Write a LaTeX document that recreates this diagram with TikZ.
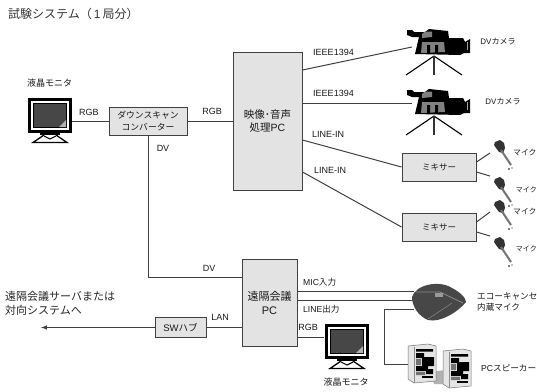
\documentclass[tikz,border=0pt]{standalone}
\usepackage{fontspec}
\setmainfont{Noto Sans CJK JP}
\setsansfont{Noto Sans CJK JP}
\newfontfamily\lat{Liberation Sans}
\tikzset{
  x=1pt,y=-1pt,
  lbl/.style={inner sep=0pt,font=\lat\fontsize{9}{10}\selectfont,text=black!90},
  jp/.style={inner sep=0pt,font=\fontsize{8.6}{10}\selectfont,text=black!90},
  jpsmall/.style={inner sep=0pt,font=\fontsize{7}{10}\selectfont,text=black!90},
  big/.style={anchor=west,inner sep=0pt,font=\fontsize{11}{12}\selectfont,text=black!85},
  boxn/.style={draw=black!75,line width=1pt,fill=black!11,inner sep=0pt,align=center,text=black!90},
  wire/.style={draw=black!75,line width=1pt},
}
\newcommand{\monitorat}[2]{%
\begin{scope}[shift={(#1,#2)}]
 \fill[black] (0,0) rectangle (44,35);
 \fill[white] (3,3) rectangle (41,32);
 \fill[black] (5,5) rectangle (39,30);
 \fill[black!72] (6,6) rectangle (38,29);
 \fill[black!30] (38,22) -- (38,29) -- (31,29) -- cycle;
 \fill[black] (12,35) rectangle (32,37);
 \draw[black,line width=1.3pt] (16,37) -- (5,44.5) -- (39,44.5) -- (28,37);
 \draw[black,line width=1.1pt] (16,38) -- (22,41) -- (28,38);
\end{scope}}
\newcommand{\cameraat}[2]{%
\begin{scope}[shift={(#1,#2)}]
 \fill[black] (0,1) -- (5,1) -- (7,3) -- (18,3) -- (22,0) -- (41,2) -- (42,9) -- (56,9) -- (58,13) -- (63,10) -- (63,24) -- (57,24) -- (53,26) -- (8,25) -- (12,8) -- (5,8) -- (0,6) -- cycle;
 \fill[black!50] (15,5) -- (18,2.5) -- (25,2.5) -- (25,8) -- (15,9) -- cycle;
 \fill[black!50] (15,13) -- (37,13) -- (38,23) -- (14,24) -- cycle;
 \fill[black] (20,16) rectangle (23,24) (28,16) rectangle (31,24);
 \fill[black!35] (59.5,13) rectangle (61,21);
 \draw[black,line width=1.1pt] (27,27) -- (-1,46) (27,27) -- (55,46);
 \draw[black!80,line width=1.1pt] (27,27) -- (27,46);
\end{scope}}
\newcommand{\micat}[2]{%
\begin{scope}[shift={(#1,#2)}]
 \fill[black!80] (-4,-4) -- (1,-6) -- (5,-3) -- (6,2) -- (4,7) -- (0,6) -- (-3,2) -- (-5,-1) -- cycle;
 \draw[black!55,line width=2pt] (2,4) -- (12,19);
 \fill[black] (10,23) circle (0.8) (13,22) circle (0.6);
\end{scope}}
\newcommand{\speakerat}[2]{%
\begin{scope}[shift={(#1,#2)}]
 \fill[black!10] (0,2) -- (20,0) -- (28,2) -- (28,37) -- (6,39) -- (0,35) -- cycle;
 \draw[black!55,line width=0.5pt] (0,2) -- (20,0) -- (28,2) -- (28,37) -- (6,39) -- (0,35) -- cycle;
 \draw[black!45,line width=0.5pt] (6,3) -- (6,39);
 \fill[black] (8,5) rectangle (25,7.5) (8,9) rectangle (16,14) (14,13) rectangle (26,22) (8,22) rectangle (20,27) (18,25) rectangle (25,30);
 \fill[black!55] (8,15) rectangle (13,21) (8,28) rectangle (17,31);
 \fill[black] (14,32) rectangle (25,34);
\end{scope}}
\begin{document}
\begin{tikzpicture}
\useasboundingbox (0,0) rectangle (537,391);
\fill[white] (0,0) rectangle (537,391);
% boxes
\node[boxn,minimum width=78pt,minimum height=28pt,font=\fontsize{8.8}{11.5}\selectfont] (conv) at (148,121) {ダウンスキャン\\コンバーター};
\node[boxn,minimum width=69pt,minimum height=138pt,font=\fontsize{10.5}{13}\selectfont] (av) at (267.5,121) {映像･音声\\処理{\lat PC}};
\node[boxn,minimum width=74pt,minimum height=28pt,font=\fontsize{8.5}{10}\selectfont] (mix1) at (439,167) {ミキサー};
\node[boxn,minimum width=74pt,minimum height=28pt,font=\fontsize{8.5}{10}\selectfont] (mix2) at (439,227) {ミキサー};
\node[boxn,minimum width=55pt,minimum height=87pt,font=\fontsize{11}{14}\selectfont] (conf) at (269.5,302.5) {遠隔会議\\{\lat PC}};
\node[boxn,minimum width=51pt,minimum height=20pt,font=\fontsize{9.5}{10}\selectfont] (hub) at (180.5,327.5) {{\lat SW}ハブ};
% free ends
\coordinate (mon1) at (72,121);
\coordinate (mon2) at (324,337);
\coordinate (cam1) at (412,47);
\coordinate (cam2) at (412,103);
\coordinate (out) at (41,327.5);
\coordinate (podA) at (414,291);
\coordinate (podB) at (414,300);
\coordinate (podC) at (414,309);
\coordinate (spk) at (408,364);
\coordinate (m1) at (490,153);
\coordinate (m2) at (490,176);
\coordinate (m3) at (490,212);
\coordinate (m4) at (490,236);
% connectors
\draw[wire] (mon1) -- (conv.west);
\draw[wire] (conv.east) -- (av.west |- conv.east);
\draw[wire] (conv.south) |- (conf.west |- 0,277);
\draw[wire] (av.east |- 0,70) -- (cam1);
\draw[wire] (av.east |- cam2) -- (cam2);
\draw[wire] (av.east |- 0,140) -- (mix1.west);
\draw[wire] (av.east |- 0,172) -- (mix2.west);
\draw[wire] (mix1.east |- 0,162) -- (m1);
\draw[wire] (mix1.east |- 0,172) -- (m2);
\draw[wire] (mix2.east |- 0,222) -- (m3);
\draw[wire] (mix2.east |- 0,232) -- (m4);
\draw[wire] (conf.east |- podA) -- (podA);
\draw[wire] (conf.east |- podB) -- (podB);
\draw[wire] (conf.east |- mon2) -- (mon2);
\draw[wire] (podC) -- (384,309) -- (384,364) -- (spk);
\draw[wire] (conf.west |- hub) -- (hub.east);
\draw[wire,-latex] (hub.west) -- (out);
% pictures
\monitorat{28}{98}
\monitorat{325}{324}
\cameraat{407}{29}
\cameraat{407}{89}
\micat{499}{146}
\micat{499}{183}
\micat{499}{206}
\micat{499}{243}
\fill[black!72] (412,297) .. controls (416,284) and (440,280) .. (452,288) .. controls (460,292) and (466,298) .. (466,302) .. controls (458,312) and (440,323) .. (428,320) .. controls (418,316) and (412,306) .. (412,297) -- cycle;
\draw[black!45,line width=0.8pt] (416,292) -- (440,292) -- (463,303);
\draw[black!50,line width=0.6pt] (428,319) -- (452,303);
\fill[black!40] (435,293) rectangle (443,297);
\fill[black!30] (430,372) -- (445,370) -- (445,384) -- (434,384) -- cycle;
\speakerat{408}{344}
\speakerat{443}{349}
% labels
\node[anchor=west,inner sep=0pt,font=\fontsize{12}{13}\selectfont,text=black!80] (title) at (8,14) {試験システム（{\lat\,1\,}局分）};
\node[jp,font=\fontsize{9}{10}\selectfont] (l1) at (49.5,83) {液晶モニタ};
\node[jp,font=\fontsize{9}{10}\selectfont] (l2) at (346,382) {液晶モニタ};
\node[lbl] (r1) at (89,112) {RGB};
\node[lbl] (r2) at (212,111) {RGB};
\node[lbl] (r3) at (308,327) {RGB};
\node[lbl] (d1) at (163,148) {DV};
\node[lbl] (d2) at (209,268) {DV};
\node[lbl] (i1) at (333.5,52) {IEEE1394};
\node[lbl] (i2) at (333.5,93) {IEEE1394};
\node[lbl] (n1) at (328,134) {LINE-IN};
\node[lbl] (n2) at (330,170) {LINE-IN};
\node[lbl] (lan) at (220,317) {LAN};
\node[jp,font=\fontsize{8}{10}\selectfont] (cl1) at (498,42) {{\lat DV}カメラ};
\node[jp,font=\fontsize{8}{10}\selectfont] (cl2) at (503,102) {{\lat DV}カメラ};
\node[jpsmall,anchor=west,font=\fontsize{7.8}{10}\selectfont] (ma) at (513,153) {マイク};
\node[jpsmall,anchor=east] (mb) at (537,190) {マイク};
\node[jpsmall,anchor=west,font=\fontsize{7.8}{10}\selectfont] (mc) at (513,212) {マイク};
\node[jpsmall,anchor=east] (md) at (537,249) {マイク};
\node[jp,anchor=west] (mic) at (303,282) {{\lat MIC}入力};
\node[jp,anchor=west] (line) at (303,309) {{\lat LINE}出力};
\node[jp,anchor=west] (ec1) at (477,296) {エコーキャンセ};
\node[jp,anchor=west] (ec2) at (477,307) {内蔵マイク};
\node[jp,anchor=west] (sp) at (481,368) {{\lat PC}スピーカー};
\node[big] (t1) at (5,296.5) {遠隔会議サーバまたは};
\node[big] (t2) at (5,310.5) {対向システムへ};
\end{tikzpicture}
\end{document}
